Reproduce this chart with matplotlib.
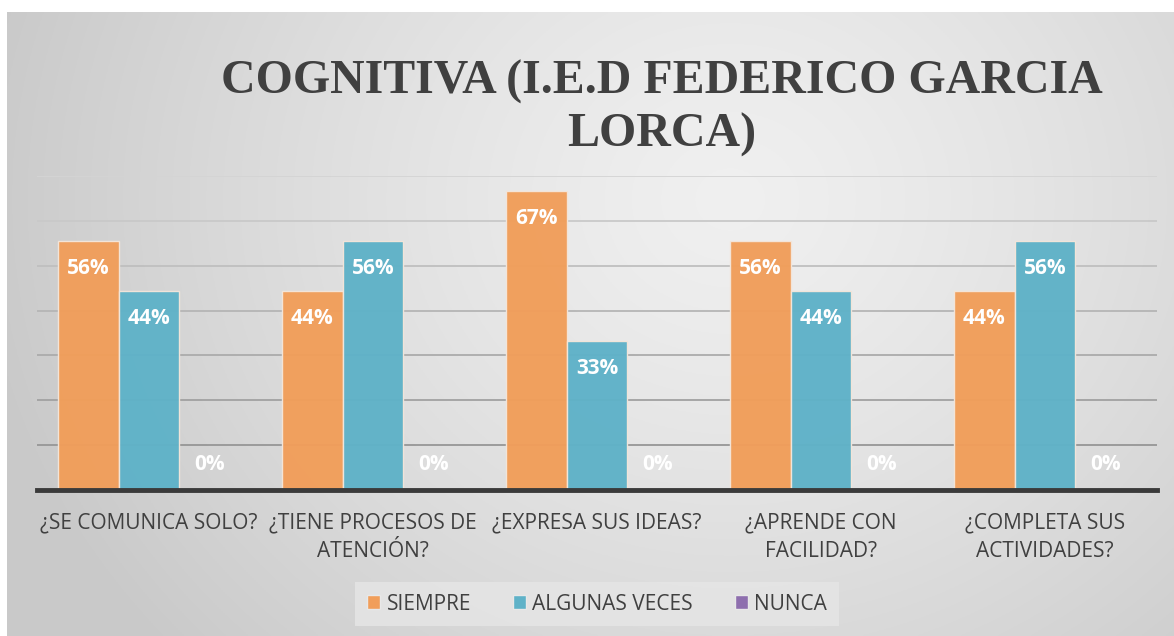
import matplotlib.pyplot as plt
import numpy as np
from matplotlib.patches import Patch

# Data
categories = ["¿SE COMUNICA SOLO?", "¿TIENE PROCESOS DE\nATENCIÓN?", "¿EXPRESA SUS IDEAS?",
              "¿APRENDE CON\nFACILIDAD?", "¿COMPLETA SUS\nACTIVIDADES?"]
siempre = [0.556, 0.444, 0.667, 0.556, 0.444]
algunas = [0.444, 0.556, 0.333, 0.444, 0.556]
nunca = [0.0, 0.0, 0.0, 0.0, 0.0]
series_names = ["SIEMPRE", "ALGUNAS VECES", "NUNCA"]
colors = ["#F19E5A", "#5FB2C8", "#8E6FAE"]

W, H = 1174, 636
fig = plt.figure(figsize=(W / 100, H / 100), dpi=100)
fig.patch.set_facecolor("white")

# background gradient panel
bg = fig.add_axes([7 / W, 0, 1 - 7 / W, (H - 12) / H], zorder=0)
yy, xx = np.mgrid[0:1:300j, 0:1:600j]
r = np.sqrt(((xx - 0.62) * 1.0) ** 2 + ((yy - 0.3) * 0.6) ** 2)
g = 0.94 - 0.15 * np.clip(r / 0.65, 0, 1) ** 1.3
img = np.dstack([g, g, g])
bg.imshow(img, aspect="auto", extent=[0, 1, 1, 0])
bg.set_xlim(0, 1)
bg.set_ylim(1, 0)
bg.axis("off")

ax = fig.add_axes([37 / W, (H - 490) / H, 1120 / W, (490 - 176) / H], zorder=1)
ax.patch.set_alpha(0)

x = np.arange(len(categories))
bw = 0.272
for i, (vals, c) in enumerate(zip([siempre, algunas, nunca], colors)):
    pos = x + (i - 1) * bw
    ax.bar(pos, vals, bw, color=c, edgecolor="#F4E6DA", linewidth=1, zorder=3, alpha=0.97)
    for px, v in zip(pos, vals):
        off = -20 if v > 0 else 18
        ax.annotate(f"{v * 100:.0f}%", (px, v), xytext=(0, off), textcoords="offset points",
                    ha="center", va="center", color="white", fontsize=15,
                    fontweight="bold", family="Open Sans", zorder=4)

ax.set_xlim(-0.5, len(categories) - 0.5)
ax.set_ylim(0, 0.70)
levels = np.arange(0.1, 0.71, 0.1)
for lv in levels:
    t = lv / 0.7
    c = 0.55 + 0.28 * t
    ax.axhline(lv, color=(c, c, c), linewidth=1.3, zorder=1)
ax.set_yticks([])
ax.tick_params(axis="x", length=0, pad=16)
ax.set_xticks(x)
ax.set_xticklabels(categories, fontsize=15, color="#404040", family="Open Sans", linespacing=1.5,
                   va="top")
for s in ["top", "right", "left"]:
    ax.spines[s].set_visible(False)
ax.spines["bottom"].set_color("#3A3A3A")
ax.spines["bottom"].set_linewidth(3.5)
ax.spines["bottom"].set_zorder(5)

fig.text(662 / W, 1 - 108 / H, "COGNITIVA (I.E.D FEDERICO GARCIA\nLORCA)", ha="center", va="center",
         fontsize=34.5, fontweight="bold", family="Liberation Serif", color="#404040", linespacing=1.25)

handles = [Patch(facecolor=c, edgecolor="#E8E8E8") for c in colors]
leg = fig.legend(handles, series_names, loc="center", bbox_to_anchor=(597 / W, 1 - 604 / H), ncol=3,
                 frameon=True, fancybox=False, handlelength=0.65, handleheight=0.65,
                 handletextpad=0.3, columnspacing=2.0, borderpad=0.55,
                 prop={"family": "Open Sans", "size": 15})
leg.get_frame().set_facecolor("#E6E6E6")
leg.get_frame().set_edgecolor("none")
for t in leg.get_texts():
    t.set_color("#404040")

fig.savefig("out.png", dpi=100)
